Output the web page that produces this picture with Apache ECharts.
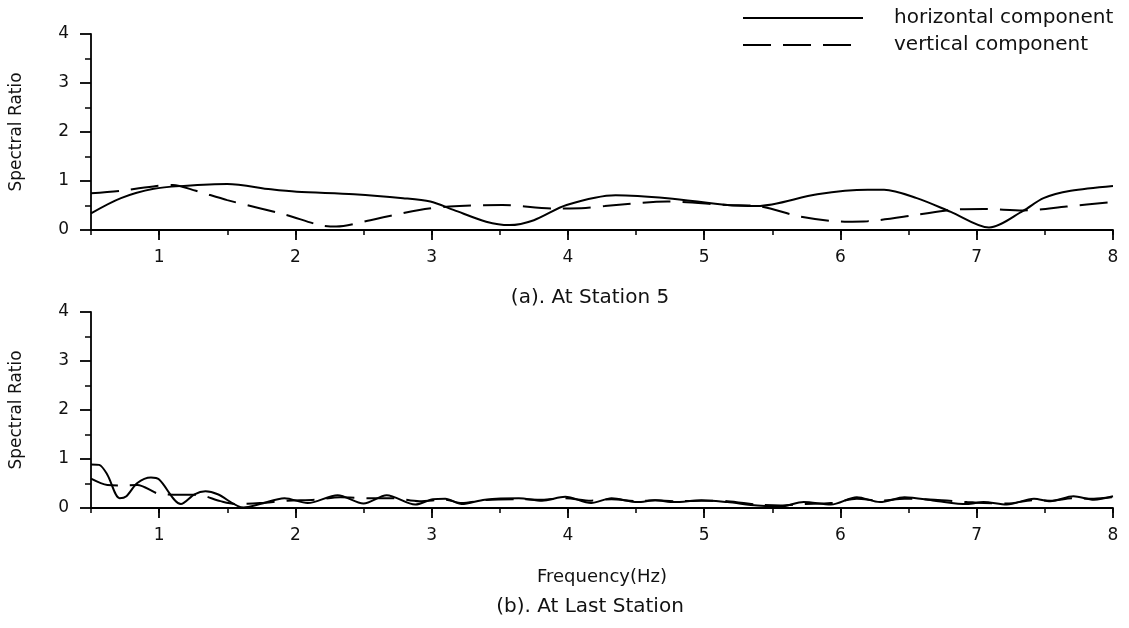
<!DOCTYPE html>
<html>
<head>
<meta charset="utf-8">
<script src="https://cdn.jsdelivr.net/npm/echarts@6/dist/echarts.min.js"></script>
<style>
html,body{margin:0;padding:0;background:#fff;}
#chart{width:1129px;height:628px;}
</style>
</head>
<body>
<div id="chart"></div>
<script>
// ---- data ----
const xTicks = [1, 2, 3, 4, 5, 6, 7, 8];
const yTicks = [0, 1, 2, 3, 4];

// (a) At Station 5 - horizontal component
const freqH5 = [0.5,0.72,0.96,1.18,1.5,1.82,2.01,2.43,2.79,2.99,3.16,3.40,3.57,3.75,3.99,4.35,4.73,5.17,5.39,5.83,6.20,6.32,6.56,6.81,7.09,7.34,7.49,7.69,8.0];
const valH5  = [0.34,0.65,0.84,0.90,0.94,0.83,0.78,0.73,0.65,0.58,0.41,0.17,0.10,0.20,0.51,0.71,0.65,0.51,0.49,0.73,0.82,0.82,0.65,0.37,0.05,0.39,0.65,0.80,0.90];
// (a) At Station 5 - vertical component
const freqV5 = [0.5,0.72,0.98,1.10,1.27,1.50,1.93,2.18,2.30,2.55,2.91,3.13,3.52,3.89,4.13,4.27,4.73,5.17,5.39,5.71,6.03,6.20,6.56,6.81,7.05,7.34,7.66,8.0];
const valV5  = [0.75,0.80,0.90,0.92,0.80,0.61,0.31,0.10,0.07,0.20,0.41,0.48,0.51,0.44,0.45,0.49,0.58,0.51,0.49,0.27,0.17,0.18,0.31,0.41,0.43,0.40,0.48,0.57];

// (b) At Last Station - horizontal component
const freqHL = [0.5,0.56,0.62,0.71,0.76,0.84,0.94,1.0,1.16,1.26,1.34,1.43,1.62,1.74,1.92,2.09,2.31,2.50,2.67,2.88,3.01,3.10,3.22,3.39,3.64,3.81,3.98,4.17,4.32,4.51,4.64,4.78,4.98,5.17,5.39,5.56,5.73,5.93,6.12,6.29,6.47,6.69,6.93,7.05,7.22,7.42,7.54,7.71,7.86,8.0];
const valHL  = [0.89,0.88,0.68,0.20,0.24,0.51,0.62,0.58,0.08,0.28,0.34,0.28,0.01,0.08,0.20,0.10,0.26,0.09,0.26,0.07,0.18,0.19,0.08,0.17,0.20,0.15,0.23,0.10,0.20,0.12,0.16,0.12,0.16,0.12,0.05,0.03,0.12,0.07,0.22,0.12,0.22,0.15,0.08,0.12,0.07,0.19,0.14,0.24,0.17,0.24];
// (b) At Last Station - vertical component
const freqVL = [0.5,0.62,0.72,0.84,1.0,1.16,1.28,1.45,1.57,1.74,1.94,2.14,2.33,2.55,2.72,2.91,3.10,3.22,3.39,3.64,3.81,3.98,4.17,4.32,4.51,4.64,4.78,4.98,5.17,5.39,5.56,5.73,5.93,6.12,6.29,6.47,6.69,6.93,7.05,7.22,7.42,7.54,7.71,7.86,8.0];
const valVL  = [0.60,0.47,0.46,0.47,0.29,0.27,0.27,0.14,0.08,0.10,0.15,0.17,0.22,0.20,0.20,0.14,0.17,0.10,0.16,0.18,0.17,0.20,0.15,0.18,0.14,0.16,0.14,0.15,0.14,0.07,0.05,0.08,0.10,0.19,0.15,0.19,0.17,0.12,0.10,0.09,0.16,0.15,0.20,0.19,0.22];

const seriesNames = ['horizontal component', 'vertical component'];
const captions = ['(a). At Station 5', '(b). At Last Station'];

// ---- build ----
const FONT = '"DejaVu Sans", "Liberation Sans", Arial, sans-serif';
const INK = '#111';
const pairs = (xs, ys) => xs.map((x, i) => [x, ys[i]]);
const DASH = [28, 12];

function mainX(gridIndex, withName) {
  const ax = {
    type: 'value', gridIndex: gridIndex, min: 0.5, max: 8, interval: 0.5,
    axisLine: { show: true, onZero: false, lineStyle: { color: '#000', width: 1.8 } },
    axisTick: { show: true, length: 10, customValues: xTicks, lineStyle: { color: '#000', width: 1.8 } },
    axisLabel: { show: true, customValues: xTicks, margin: 19, fontSize: 17, fontFamily: FONT, color: INK },
    splitLine: { show: false }
  };
  if (withName) {
    ax.name = 'Frequency(Hz)';
    ax.nameLocation = 'middle';
    ax.nameGap = 60;
    ax.nameTextStyle = { fontSize: 18, fontFamily: FONT, color: INK };
  }
  return ax;
}
function minorX(gridIndex) {
  return {
    type: 'value', gridIndex: gridIndex, min: 0.5, max: 8, interval: 0.5, position: 'bottom',
    axisLine: { show: false },
    axisTick: { show: true, length: 5, lineStyle: { color: '#000', width: 1.5 } },
    axisLabel: { show: false },
    splitLine: { show: false }
  };
}
function yAx(gridIndex) {
  return {
    type: 'value', gridIndex: gridIndex, min: yTicks[0], max: yTicks[yTicks.length - 1], interval: 1,
    name: 'Spectral Ratio', nameLocation: 'middle', nameGap: 66, nameRotate: 90,
    nameTextStyle: { fontSize: 17, fontFamily: FONT, color: INK },
    axisLine: { show: true, lineStyle: { color: '#000', width: 1.8 } },
    axisTick: { show: true, length: 11, lineStyle: { color: '#000', width: 1.8 } },
    minorTick: { show: true, splitNumber: 2, length: 6, lineStyle: { color: '#000', width: 1.5 } },
    axisLabel: { margin: 22, fontSize: 17, fontFamily: FONT, color: INK },
    splitLine: { show: false }
  };
}
function lineSeries(name, xi, yi, data, dashed) {
  return {
    name: name, type: 'line', xAxisIndex: xi, yAxisIndex: yi,
    data: data, symbol: 'none', showSymbol: false, smooth: 0.3,
    lineStyle: { color: '#000', width: 2, type: dashed ? DASH : 'solid' },
    itemStyle: { color: '#000' },
    emphasis: { disabled: true }, animation: false
  };
}

const option = {
  backgroundColor: '#fff',
  animation: false,
  grid: [
    { left: 88, top: 34, width: 1025, height: 196 },
    { left: 88, top: 312, width: 1025, height: 196 }
  ],
  legend: {
    orient: 'vertical', left: 737, top: 3, itemWidth: 120, itemHeight: 14, itemGap: 7,
    data: seriesNames,
    itemStyle: { opacity: 0 },
    lineStyle: { width: 2 },
    textStyle: { fontSize: 20, fontFamily: FONT, color: INK, lineHeight: 20, padding: [0, 0, 0, 26] }
  },
  xAxis: [mainX(0, false), minorX(0), mainX(1, true), minorX(1)],
  yAxis: [yAx(0), yAx(1)],
  graphic: [
    { type: 'text', x: 590, y: 298, style: { text: captions[0], font: '20px ' + FONT, fill: INK, align: 'center', verticalAlign: 'middle' } },
    { type: 'text', x: 590, y: 607, style: { text: captions[1], font: '20px ' + FONT, fill: INK, align: 'center', verticalAlign: 'middle' } }
  ],
  series: [
    lineSeries(seriesNames[0], 0, 0, pairs(freqH5, valH5), false),
    lineSeries(seriesNames[1], 0, 0, pairs(freqV5, valV5), true),
    lineSeries(seriesNames[0], 2, 1, pairs(freqHL, valHL), false),
    lineSeries(seriesNames[1], 2, 1, pairs(freqVL, valVL), true)
  ]
};

const chart = echarts.init(document.getElementById('chart'), null, { renderer: 'canvas' });
chart.setOption(option);
</script>
</body>
</html>
